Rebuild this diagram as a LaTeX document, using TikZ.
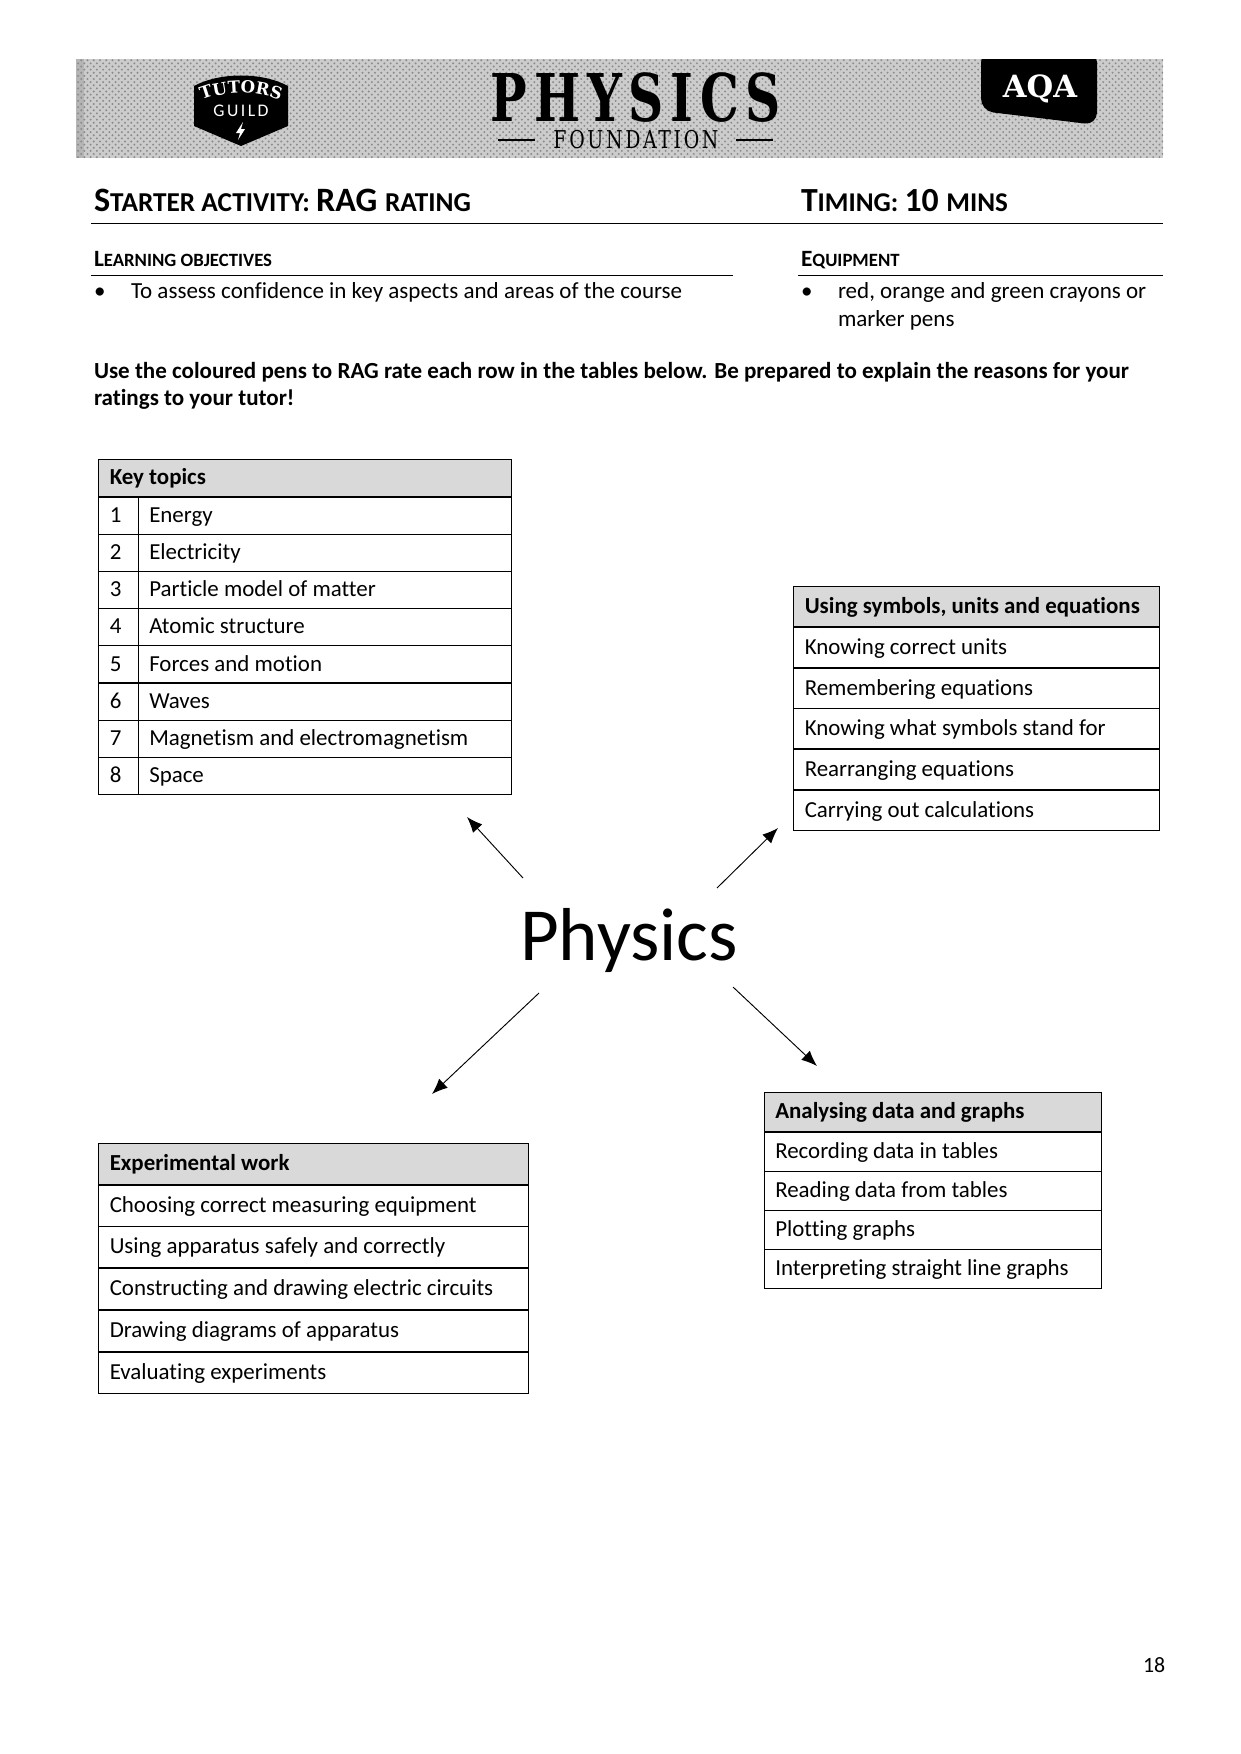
\documentclass[tikz,border=0pt]{standalone}
\usepackage{fontspec}
\setmainfont[Ligatures={NoCommon}]{Carlito}
\newfontfamily\slabfont{DejaVu Serif}
\newfontfamily\slabwide[LetterSpace=14]{DejaVu Serif}
\usetikzlibrary{arrows.meta,patterns,decorations.text}

\begin{document}
\begin{tikzpicture}[x=0.48pt, y=-0.48pt, >={Latex[length=7.5pt,width=6pt]},
        cell/.style={draw, line width=0.35pt, anchor=north west, align=flush left, inner xsep=5.4pt, inner
        ysep=0pt, outer sep=0pt, font=\fontsize{11}{14}\selectfont, execute at begin node=\rule[-3.6pt]{0pt}{14pt}},
        keyhead/.style={cell, fill=black!15, text width=187.2pt, minimum height=17.9pt, font=\fontsize{11}{14}\selectfont\bfseries},
        keynum/.style={cell, text width=8.2pt, minimum height=17.9pt},
        keyrow/.style={cell, text width=168.2pt, minimum height=17.9pt},
        symhead/.style={symrow, fill=black!15, font=\fontsize{11}{14}\selectfont\bfseries},
        symrow/.style={cell, text width=164.6pt, minimum height=19.6pt},
        exphead/.style={exprow, fill=black!15, font=\fontsize{11}{14}\selectfont\bfseries},
        exprow/.style={cell, text width=195.4pt, minimum height=20pt},
        datahead/.style={datarow, fill=black!15, font=\fontsize{11}{14}\selectfont\bfseries},
        datarow/.style={cell, text width=151pt, minimum height=18.9pt},
        plain/.style={anchor=base west, inner sep=0pt, outer sep=0pt, font=\fontsize{11.05}{14}\selectfont},
        strong/.style={plain, font=\fontsize{11.05}{14}\selectfont\bfseries},
        arrow/.style={->, line width=0.45pt}]

    \useasboundingbox (0,0) rectangle (1241,1754);

    % banner
    \fill[black!20] (76,59) rectangle (1163,158);
    \fill[pattern=crosshatch dots, pattern color=black!45] (76,59) rectangle (1163,158);
    \fill[black!45, opacity=0.35] (76,59) rectangle (84,158);
    \fill[black] (194,86) .. controls (220,72) and (262,72) .. (288,86) -- (288,126) -- (241,146) -- (194,126) -- cycle;
    \path[decorate, decoration={text along path, text align=center,
        text={|\slabfont\bfseries\fontsize{8}{10}\selectfont\color{white}|TUTORS}}]
        (198,102) .. controls (222,90) and (260,90) .. (284,102);
    \node[text=white, inner sep=0pt, font=\fontsize{8.5}{10}\selectfont] (guild) at (241,111) {\addfontfeature{LetterSpace=14}GUILD};
    \fill[white] (243,122) -- (236,133) -- (240,133) -- (238,140) -- (245,129) -- (241,129) -- cycle;
    \fill[black, rounded corners=6pt] (981,50) -- (981,111) -- (1097,125) -- (1097,50) -- cycle;
    \fill[white] (70,40) rectangle (1170,59);
    \node[text=white, inner sep=0pt, font=\slabfont\bfseries\fontsize{14.7}{18}\selectfont] (board) at (1040,89) {AQA};
    \node[inner sep=0pt] (subject) at (636,98) {\scalebox{0.74}[1]{\slabwide\bfseries\fontsize{31.6}{34}\selectfont PHYSICS}};
    \node[inner sep=0pt] (tier) at (636,139.5) {\scalebox{0.77}[1]{\slabwide\fontsize{11.8}{14}\selectfont FOUNDATION}};
    \draw[line width=0.6pt] (498,140) -- (535,140) (736,140) -- (773,140);

    % headings
    \node[strong] (starter) at (94,211.5) {\fontsize{16.4}{18}\selectfont S\fontsize{13.1}{18}\selectfont TARTER ACTIVITY: \fontsize{16.4}{18}\selectfont RAG \fontsize{13.1}{18}\selectfont RATING};
    \node[strong] (timing) at (801,211.5) {\fontsize{16.2}{18}\selectfont T\fontsize{13}{18}\selectfont IMING: \fontsize{16.2}{18}\selectfont 10 \fontsize{13}{18}\selectfont MINS};
    \draw[line width=0.4pt] (91,223.5) -- (1163,223.5);
    \node[strong] (objectives) at (94,266) {\fontsize{11.2}{14}\selectfont L\fontsize{9}{14}\selectfont EARNING OBJECTIVES};
    \node[strong] (equipment) at (801,266) {\fontsize{11.2}{14}\selectfont E\fontsize{9}{14}\selectfont QUIPMENT};
    \draw[line width=0.4pt] (91,275) -- (733,275) (798,275) -- (1163,275);
    \node[plain] (bulleta) at (94,298) {•};
    \node[plain] (assess) at (131,298) {To assess confidence in key aspects and areas of the course};
    \node[plain] (bulletb) at (801,298) {•};
    \node[plain] (pensa) at (838,298) {red, orange and green crayons or};
    \node[plain] (pensb) at (838,326) {marker pens};
    \node[strong] (usea) at (94,378.5) {Use the coloured pens to RAG rate each row in the tables below. Be prepared to explain the reasons for your};
    \node[strong] (useb) at (94,405.5) {ratings to your tutor!};

    % key topics
    \node[keyhead] (keytitle) at (98.5,459) {Key topics};
    \node[keynum] (numa) at (98.5,497) {1}; \node[keyrow] (topica) at (138,497) {Energy};
    \node[keynum] (numb) at (98.5,534) {2}; \node[keyrow] (topicb) at (138,534) {Electricity};
    \node[keynum] (numc) at (98.5,571) {3}; \node[keyrow] (topicc) at (138,571) {Particle model of matter};
    \node[keynum] (numd) at (98.5,608) {4}; \node[keyrow] (topicd) at (138,608) {Atomic structure};
    \node[keynum] (nume) at (98.5,645.5) {5}; \node[keyrow] (topice) at (138,645.5) {Forces and motion};
    \node[keynum] (numf) at (98.5,683) {6}; \node[keyrow] (topicf) at (138,683) {Waves};
    \node[keynum] (numg) at (98.5,720) {7}; \node[keyrow] (topicg) at (138,720) {Magnetism and electromagnetism};
    \node[keynum] (numh) at (98.5,757) {8}; \node[keyrow] (topich) at (138,757) {Space};

    % symbols, units and equations
    \node[symhead] (symtitle) at (793.5,586) {Using symbols, units and equations};
    \node[symrow] (syma) at (793.5,627) {Knowing correct units};
    \node[symrow] (symb) at (793.5,668) {Remembering equations};
    \node[symrow] (symc) at (793.5,708) {Knowing what symbols stand for};
    \node[symrow] (symd) at (793.5,749) {Rearranging equations};
    \node[symrow] (syme) at (793.5,790) {Carrying out calculations};

    % experimental work
    \node[exphead] (exptitle) at (98.5,1143) {Experimental work};
    \node[exprow] (expa) at (98.5,1185) {Choosing correct measuring equipment};
    \node[exprow] (expb) at (98.5,1226) {Using apparatus safely and correctly};
    \node[exprow] (expc) at (98.5,1268) {Constructing and drawing electric circuits};
    \node[exprow] (expd) at (98.5,1310) {Drawing diagrams of apparatus};
    \node[exprow] (expe) at (98.5,1352) {Evaluating experiments};

    % data and graphs
    \node[datahead] (datatitle) at (764,1092) {Analysing data and graphs};
    \node[datarow] (dataa) at (764,1132) {Recording data in tables};
    \node[datarow] (datab) at (764,1171) {Reading data from tables};
    \node[datarow] (datac) at (764,1210) {Plotting graphs};
    \node[datarow] (datad) at (764,1249) {Interpreting straight line graphs};

    % centre and arrows
    \node[inner sep=0pt, font=\fontsize{36}{40}\selectfont] (physics) at (629,940) {Physics};
    \coordinate (keystart) at (523,878); \coordinate (keyend) at (467,817);
    \coordinate (symstart) at (717,888); \coordinate (symend) at (778,828);
    \coordinate (expstart) at (539,993); \coordinate (expend) at (432,1094);
    \coordinate (datastart) at (733,987); \coordinate (dataend) at (817,1066);
    \draw[arrow] (keystart) -- (keyend);
    \draw[arrow] (symstart) -- (symend);
    \draw[arrow] (expstart) -- (expend);
    \draw[arrow] (datastart) -- (dataend);

    \node[plain, font=\fontsize{10.5}{13}\selectfont] (page) at (1143,1672) {18};

  \end{tikzpicture}
\end{document}
